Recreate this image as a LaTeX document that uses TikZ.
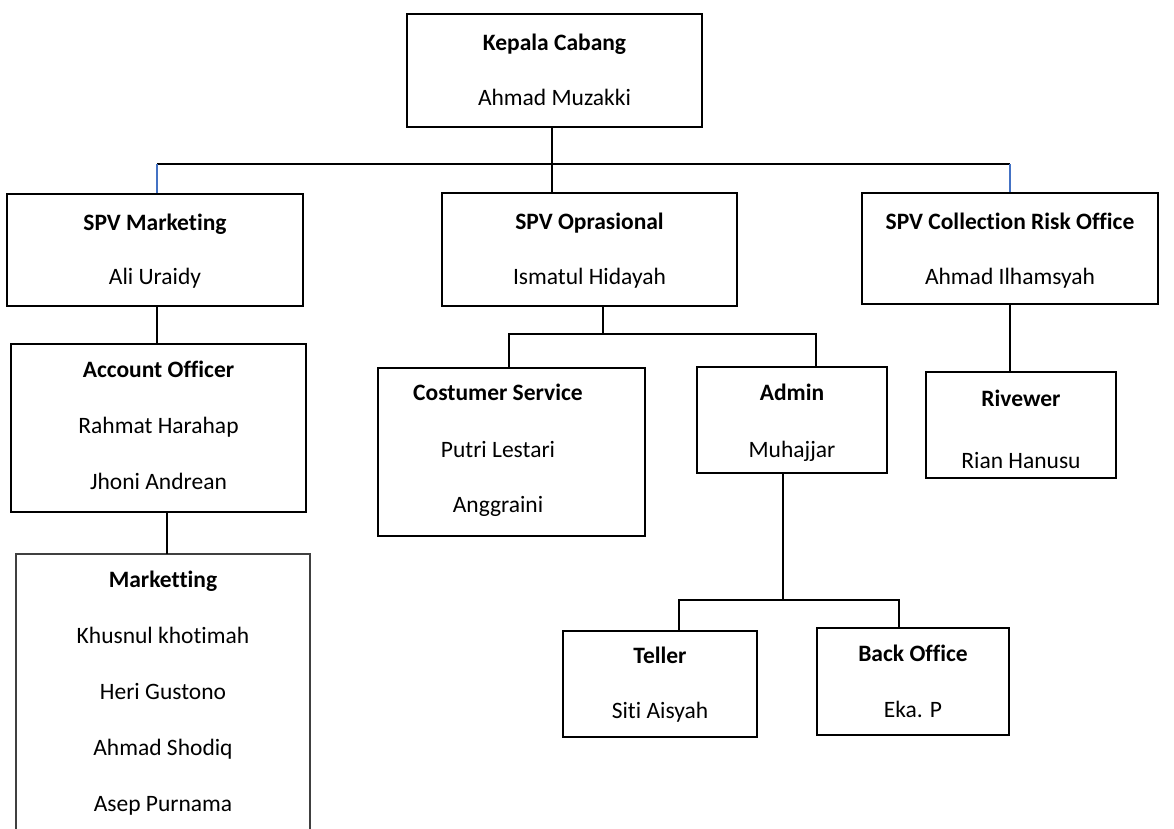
\documentclass[tikz,border=0pt]{standalone}
\usepackage{fontspec}
\setmainfont{Carlito}[Ligatures=NoCommon]
\usetikzlibrary{fit}
\definecolor{conblue}{HTML}{4472C4}
\definecolor{mkgray}{HTML}{404040}
\tikzset{
 thickbox/.style={draw=black, line width=2pt, inner sep=0pt},
 thinbox/.style={draw=black, line width=1.3pt, inner sep=0pt},
 openbox/.style={inner sep=0pt},
 conn/.style={draw=black, line width=1.3pt},
 bconn/.style={draw=conblue, line width=1.3pt},
 ttl/.style={anchor=base, font=\fontsize{23.5}{28}\selectfont\bfseries, inner sep=0pt},
 nm/.style={anchor=base, font=\fontsize{23.5}{28}\selectfont, inner sep=0pt},
}
\begin{document}
\begin{tikzpicture}[x=1pt,y=-1pt]
\useasboundingbox[fill=white] (0,0) rectangle (1174,828);

% boxes
\node[thickbox, fit={(407,14) (702,127)}] (kc) {};
\node[thickbox, fit={(7,194) (303,306)}] (sm) {};
\node[thickbox, fit={(442,193) (737,306)}] (so) {};
\node[thickbox, fit={(862,193) (1158,304)}] (sc) {};
\node[thinbox, fit={(11,344) (306,512)}] (ao) {};
\node[openbox, fit={(16,554) (310,834)}] (mk) {};
\draw[mkgray, line width=1.5pt] (mk.south west) -- (mk.north west) -- (mk.north east) -- (mk.south east);
\node[thinbox, fit={(378,368) (645,536)}] (cs) {};
\node[thinbox, fit={(697,367) (887,473)}] (ad) {};
\node[thinbox, fit={(926,372) (1116,478)}] (rv) {};
\node[thinbox, fit={(563,631) (757,737)}] (te) {};
\node[thinbox, fit={(817,628) (1009,735)}] (bo) {};

% texts
\node[ttl] (kc-t) at (554.5,50) {Kepala Cabang};
\node[nm] (kc-n) at (554.5,105) {Ahmad Muzakki};
\node[ttl] (sm-t) at (155,230) {SPV Marketing};
\node[nm] (sm-n) at (155,284) {Ali Uraidy};
\node[ttl] (so-t) at (589.5,229) {SPV Oprasional};
\node[nm] (so-n) at (589.5,284) {Ismatul Hidayah};
\node[ttl] (sc-t) at (1010,229) {SPV Collection Risk Office};
\node[nm] (sc-n) at (1010,284) {Ahmad Ilhamsyah};
\node[ttl] (ao-t) at (158.5,377) {Account Officer};
\node[nm] (ao-n1) at (158.5,433) {Rahmat Harahap};
\node[nm] (ao-n2) at (158.5,489) {Jhoni Andrean};
\node[ttl] (mk-t) at (163,587) {Marketting};
\node[nm] (mk-n1) at (163,643) {Khusnul khotimah};
\node[nm] (mk-n2) at (163,699) {Heri Gustono};
\node[nm] (mk-n3) at (163,755) {Ahmad Shodiq};
\node[nm] (mk-n4) at (163,811) {Asep Purnama};
\node[ttl] (cs-t) at (498,400) {Costumer Service};
\node[nm] (cs-n1) at (498,457) {Putri Lestari};
\node[nm] (cs-n2) at (498,512) {Anggraini};
\node[ttl] (ad-t) at (792,400) {Admin};
\node[nm] (ad-n) at (792,457) {Muhajjar};
\node[ttl] (rv-t) at (1021,406) {Rivewer};
\node[nm] (rv-n) at (1021,468) {Rian Hanusu};
\node[ttl] (te-t) at (660,663) {Teller};
\node[nm] (te-n) at (660,718) {Siti Aisyah};
\node[ttl] (bo-t) at (913,661) {Back Office};
\node[nm] (bo-n) at (913,717) {Eka. P};

% junctions
\coordinate (jtop) at (552,164);
\coordinate (jl) at (157,164);
\coordinate (jr) at (1010,164);
\coordinate (jao) at (167,530);
\coordinate (jso) at (603,334);
\coordinate (jcs) at (509,334);
\coordinate (jad) at (816,334);
\coordinate (jadm) at (783,600);
\coordinate (jte) at (679,600);
\coordinate (jbo) at (899,600);

% connectors
\draw[conn] (jtop |- kc.south) -- (jtop |- so.north);
\draw[conn] (jl) -- (jr);
\draw[bconn] (jl) -- (jl |- sm.north);
\draw[bconn] (jr) -- (jr |- sc.north);
\draw[conn] (jl |- sm.south) -- (jl |- ao.north);
\draw[conn] (jao |- ao.south) -- (jao |- mk.north);
\draw[conn] (jso |- so.south) -- (jso);
\draw[conn] (jcs |- cs.north) -- (jcs) -- (jad) -- (jad |- ad.north);
\draw[conn] (jadm |- ad.south) -- (jadm);
\draw[conn] (jte |- te.north) -- (jte) -- (jbo) -- (jbo |- bo.north);
\draw[conn] (jr |- sc.south) -- (jr |- rv.north);
\end{tikzpicture}
\end{document}
